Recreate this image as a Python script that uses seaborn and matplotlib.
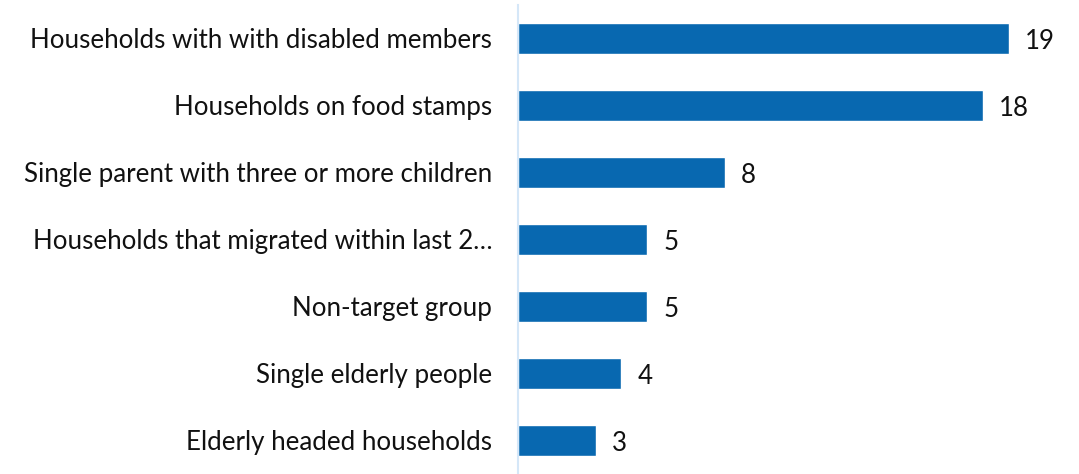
import matplotlib
matplotlib.use("Agg")
import matplotlib.pyplot as plt
import seaborn as sns
import pandas as pd

categories = [
    "Households with with disabled members",
    "Households on food stamps",
    "Single parent with three or more children",
    "Households that migrated within last 2\u2026",
    "Non-target group",
    "Single elderly people",
    "Elderly headed households",
]
values = [19, 18, 8, 5, 5, 4, 3]

df = pd.DataFrame({"group": categories, "count": values})

sns.set_theme(style="white")
plt.rcParams["font.family"] = ["Lato", "DejaVu Sans"]

fig = plt.figure(figsize=(10.79, 4.74), dpi=100)
ax = fig.add_axes([518 / 1079, 0.0, 1 - 518 / 1079, 0.99])

sns.barplot(data=df, x="count", y="group", orient="h", color="#0868B0",
            saturation=1, width=0.47, ax=ax)

ax.set_xlim(0, 561 / 25.84)
ax.set_ylim(6.5, -0.5)
ax.set_xlabel("")
ax.set_ylabel("")
ax.set_xticks([])
ax.tick_params(axis="y", length=0, pad=18.5, labelsize=18.6, labelcolor="#111111")

for s in ["top", "right", "bottom"]:
    ax.spines[s].set_visible(False)
ax.spines["left"].set_color("#D5E7F8")
ax.spines["left"].set_linewidth(1.5)

for i, v in enumerate(values):
    ax.annotate(str(v), xy=(v, i), xytext=(11.5, -2), textcoords="offset points",
                va="center", ha="left", fontsize=18.6, color="#111111")

fig.savefig("out.png", dpi=100)
